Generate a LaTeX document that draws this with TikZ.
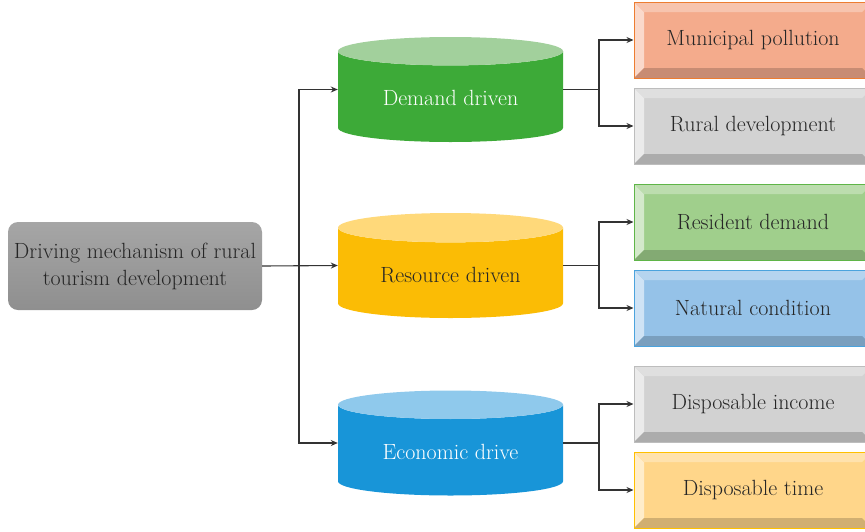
\documentclass[tikz,border=0pt]{standalone}
\usetikzlibrary{arrows.meta, shapes.geometric}

\definecolor{txtdark}{HTML}{262626}
\definecolor{linedark}{HTML}{333333}
% box colours: face and border
\definecolor{munface}{HTML}{F4AB8C}  \definecolor{munedge}{HTML}{ED7D31}
\definecolor{grayface}{HTML}{D2D2D2} \definecolor{grayedge}{HTML}{BDBDBD}
\definecolor{resface}{HTML}{A0CF8C}  \definecolor{resedge}{HTML}{5FB548}
\definecolor{natface}{HTML}{95C2E8}  \definecolor{natedge}{HTML}{4BA3DD}
\definecolor{timeface}{HTML}{FFD68A} \definecolor{timeedge}{HTML}{FFC000}
% cylinder colours: body and top
\definecolor{grnbody}{HTML}{3DAA38}  \definecolor{grntop}{HTML}{A2D09C}
\definecolor{ylwbody}{HTML}{FBBC05}  \definecolor{ylwtop}{HTML}{FFD97A}
\definecolor{blubody}{HTML}{1895D8}  \definecolor{blutop}{HTML}{8FC9EC}

\begin{document}
\begin{tikzpicture}[
    x=1pt, y=-1pt,
    font=\fontsize{22}{27}\selectfont,
    % rounded root box
    rootbox/.style={rounded corners=10pt, top color=gray!70, bottom color=gray!88,
        minimum width=254, minimum height=88, align=center, text=txtdark},
    % drum for each driving factor
    drum/.style n args={3}{cylinder, shape border rotate=90, aspect=0.2,
        minimum width=225, minimum height=105, cylinder uses custom fill,
        cylinder body fill=#1, cylinder end fill=#2, text=#3, anchor=shape center},
    % bevelled box on the right
    bevelbox/.style n args={2}{draw=#2, line width=1pt, fill=#1, text=txtdark,
        minimum width=238, minimum height=76,
        path picture={
            \fill[#1!45!white] (path picture bounding box.north west)
                -- (path picture bounding box.south west)
                -- ([shift={(10,-10)}]path picture bounding box.south west)
                -- ([shift={(10,10)}]path picture bounding box.north west) -- cycle;
            \fill[#1!70!white] (path picture bounding box.north west)
                -- (path picture bounding box.north east)
                -- ([shift={(-10,10)}]path picture bounding box.north east)
                -- ([shift={(10,10)}]path picture bounding box.north west) -- cycle;
            \fill[#1!82!black] (path picture bounding box.south west)
                -- (path picture bounding box.south east)
                -- ([shift={(-10,-10)}]path picture bounding box.south east)
                -- ([shift={(10,-10)}]path picture bounding box.south west) -- cycle;
        }},
    arrow/.style={-{Stealth[length=7pt, width=6pt]}, line width=1.1pt, draw=linedark}
]
    \useasboundingbox (0,0) rectangle (865,531);

    % --- ROOT ---
    \node[rootbox] (root) at (135,266) {Driving mechanism of rural\\tourism development};

    % --- DRIVING FACTORS ---
    \node[drum={grnbody}{grntop}{white}]   (demand)   at (450.5,89.5) {Demand driven};
    \node[drum={ylwbody}{ylwtop}{txtdark}] (resource) at (450.5,265.5) {Resource driven};
    \node[drum={blubody}{blutop}{white}]   (economic) at (450.5,443) {Economic drive};

    % --- RIGHT COLUMN ---
    \node[bevelbox={munface}{munedge}]   (pollution) at (753,40)  {Municipal pollution};
    \node[bevelbox={grayface}{grayedge}] (ruraldev)  at (753,126) {Rural development};
    \node[bevelbox={resface}{resedge}]   (resident)  at (753,222) {Resident demand};
    \node[bevelbox={natface}{natedge}]   (natural)   at (753,308) {Natural condition};
    \node[bevelbox={grayface}{grayedge}] (income)    at (753,404) {Disposable income};
    \node[bevelbox={timeface}{timeedge}] (time)      at (753,490) {Disposable time};

    % --- CONNECTORS ---
    \coordinate (split) at (299,266);
    \draw[arrow] (root.east) -- (resource.west |- resource.shape center);
    \draw[arrow] (split) |- (demand.west |- demand.shape center);
    \draw[arrow] (split) |- (economic.west |- economic.shape center);

    \coordinate (dsplit) at (599,89.5);
    \coordinate (rsplit) at (599,265.5);
    \coordinate (esplit) at (599,443);
    \draw[line width=1.1pt, draw=linedark] (demand.east |- demand.shape center) -- (dsplit);
    \draw[line width=1.1pt, draw=linedark] (resource.east |- resource.shape center) -- (rsplit);
    \draw[line width=1.1pt, draw=linedark] (economic.east |- economic.shape center) -- (esplit);
    \draw[arrow] (dsplit) |- (pollution.west);
    \draw[arrow] (dsplit) |- (ruraldev.west);
    \draw[arrow] (rsplit) |- (resident.west);
    \draw[arrow] (rsplit) |- (natural.west);
    \draw[arrow] (esplit) |- (income.west);
    \draw[arrow] (esplit) |- (time.west);
\end{tikzpicture}
\end{document}
